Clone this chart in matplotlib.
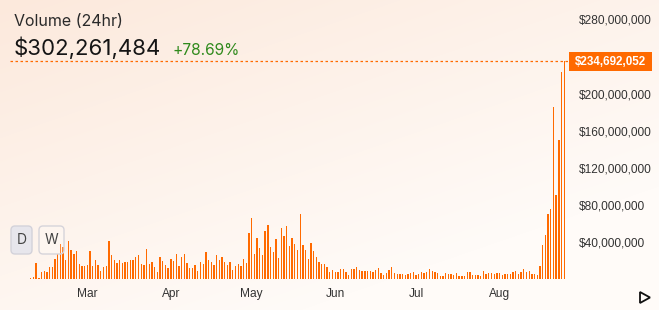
import numpy as np
import pandas as pd
import matplotlib
matplotlib.use('Agg')
import matplotlib.pyplot as plt
import matplotlib.dates as mdates
from matplotlib.patches import FancyBboxPatch, Rectangle, Polygon

# daily volume in millions of USD, Feb 9 - Aug 25
vol_feb_may = [1.4, 2.5, 17.3, 1.1, 7.9, 9.0, 7.9, 12.9, 12.9, 21.6, 27.0, 37.7, 34.9, 20.5,
               41.0, 31.3, 27.0, 29.8, 16.2, 14.4, 14.4, 15.1, 30.2, 14.4, 20.5, 15.1, 8.6,
               12.9, 14.0, 41.0, 25.9, 20.5, 17.3, 20.5, 17.3, 18.3, 18.3, 20.5, 20.5, 23.7,
               25.9, 16.2, 15.1, 32.3, 16.2, 18.3, 12.9, 7.9, 23.7, 19.4, 15.1, 11.9, 21.6,
               19.4, 27.0, 14.0, 23.7, 27.0, 17.3, 11.9, 11.9, 15.1, 8.6, 18.3, 16.2, 29.1,
               20.5, 18.3, 15.1, 25.9, 20.5, 23.7, 18.3, 15.1, 18.3, 9.7, 14.0, 16.2, 14.0,
               21.6, 17.3, 49.6, 65.8, 27.0, 44.2, 33.4, 25.9, 51.8, 58.2, 34.5, 29.1, 43.1,
               22.6, 55.0, 46.4, 57.1, 35.6, 44.2, 37.7, 31.3, 70.1, 36.7, 31.3, 21.6, 38.8,
               30.2, 23.7, 18.3, 16.2, 16.2, 12.9, 7.5]
vol_jun = [9.7, 7.5, 7.5, 10.8, 10.8, 7.5, 4.3, 10.8, 10.8, 12.9, 9.7, 8.6, 8.6, 8.6, 8.6,
           7.5, 9.7, 11.9, 6.5, 4.3, 6.5]
vol_jul = [9.7, 12.9, 6.5, 5.4, 5.4, 5.4, 4.3, 5.4, 6.5, 7.5, 4.3, 5.4, 7.5, 6.5, 7.5, 10.8,
           8.6, 7.5, 6.5, 3.2, 3.2, 6.5, 5.4, 5.4, 4.3, 6.5, 3.2, 3.2, 3.2, 7.5, 7.5, 4.3,
           4.3, 4.3]
vol_aug = [2.9, 8.6, 5.4, 6.5, 6.5, 5.4, 6.5, 6.5, 4.3, 5.4, 5.4, 5.4, 7.5, 8.6, 5.4, 7.5,
           10.8, 7.5, 8.6, 5.4, 5.4, 4.3, 14.0, 36.7, 47.4, 70.0, 75.5, 185.5, 90.6, 149.9,
           223.2, 234.692052]
volume = np.array(vol_feb_may + vol_jun + vol_jul + vol_aug) * 1e6
dates = pd.date_range('2024-02-09', periods=len(volume), freq='D')

# the 240M label sits under the last-value tag
y_ticks = [40e6, 80e6, 120e6, 160e6, 200e6, 280e6]
last_value = 234692052
title = 'Volume (24hr)'
total = '$302,261,484'
change = '+78.69%'

orange = '#FF6A00'
W, H = 659, 310

fig = plt.figure(figsize=(W / 100, H / 100), dpi=100)

# background gradient
bg = fig.add_axes([0, 0, 1, 1])
yy, xx = np.mgrid[0:H, 0:W]
t = np.clip(0.55 * xx / W + 0.75 * yy / H, 0, 1)[..., None]
c0 = np.array([252, 233, 220]) / 255
c1 = np.array([255, 251, 248]) / 255
bg.imshow(c0 + (c1 - c0) * t, aspect='auto', extent=[0, W, H, 0])
bg.set_axis_off()

ax = fig.add_axes([10 / W, 31 / H, 558 / W, 269 / H])
ax.set_facecolor('none')
x = mdates.date2num(dates)
ax.bar(x, volume, width=0.5, color=orange, linewidth=0)
ax.set_xlim(x[0] - 7.7, x[-1] + 1.4)
ax.set_ylim(0, 269 / 37.1 * 40e6)
ax.axhline(last_value, color=orange, lw=0.9, ls=(0, (2, 2)))

ax.xaxis.set_major_locator(mdates.MonthLocator())
ax.xaxis.set_major_formatter(mdates.DateFormatter('%b'))
ax.yaxis.tick_right()
ax.set_yticks(y_ticks)
ax.set_yticklabels(['${:,.0f}'.format(v) for v in y_ticks])
ax.tick_params(length=0, labelsize=8.6, labelcolor='#333333', labelfontfamily='Liberation Sans')
ax.tick_params(axis='y', pad=7.5)
ax.tick_params(axis='x', pad=6.5)
for s in ax.spines.values():
    s.set_visible(False)

# overlay in pixel coordinates
ov = fig.add_axes([0, 0, 1, 1])
ov.set_xlim(0, W)
ov.set_ylim(H, 0)
ov.set_axis_off()
ov.patch.set_alpha(0)

ov.text(14, 26, title, fontsize=11.5, family='Inter', color='#2a2a2a', va='baseline')
ov.text(14, 55, total, fontsize=16, family='Inter', color='#151515', va='baseline')
ov.text(173, 55, change, fontsize=11.2, family='Inter', color='#2f8a1c', va='baseline')

ov.add_patch(Rectangle((569, 52), 83, 19, color=orange, lw=0))
ov.text(610.5, 61.8, '${:,}'.format(last_value), fontsize=8.4, family='Liberation Sans',
        weight='bold', color='white', ha='center', va='center')

ov.add_patch(FancyBboxPatch((11, 226), 21, 28, boxstyle='round,pad=0,rounding_size=4',
                            fc='#e7e6ec', ec='#d3d2da', lw=1))
ov.add_patch(FancyBboxPatch((39, 226), 25, 28, boxstyle='round,pad=0,rounding_size=4',
                            fc=(1, 1, 1, 0.2), ec='#d6d4da', lw=1))
ov.text(21.5, 240.5, 'D', fontsize=10, family='Inter', color='#444444', ha='center', va='center')
ov.text(51.5, 240.5, 'W', fontsize=10, family='Inter', color='#444444', ha='center', va='center')

ov.add_patch(Polygon([(640, 292), (640, 303), (650, 297.5)], closed=True, fill=False,
                     ec='#111111', lw=1.3, joinstyle='miter'))

fig.savefig('out.png', dpi=100)
